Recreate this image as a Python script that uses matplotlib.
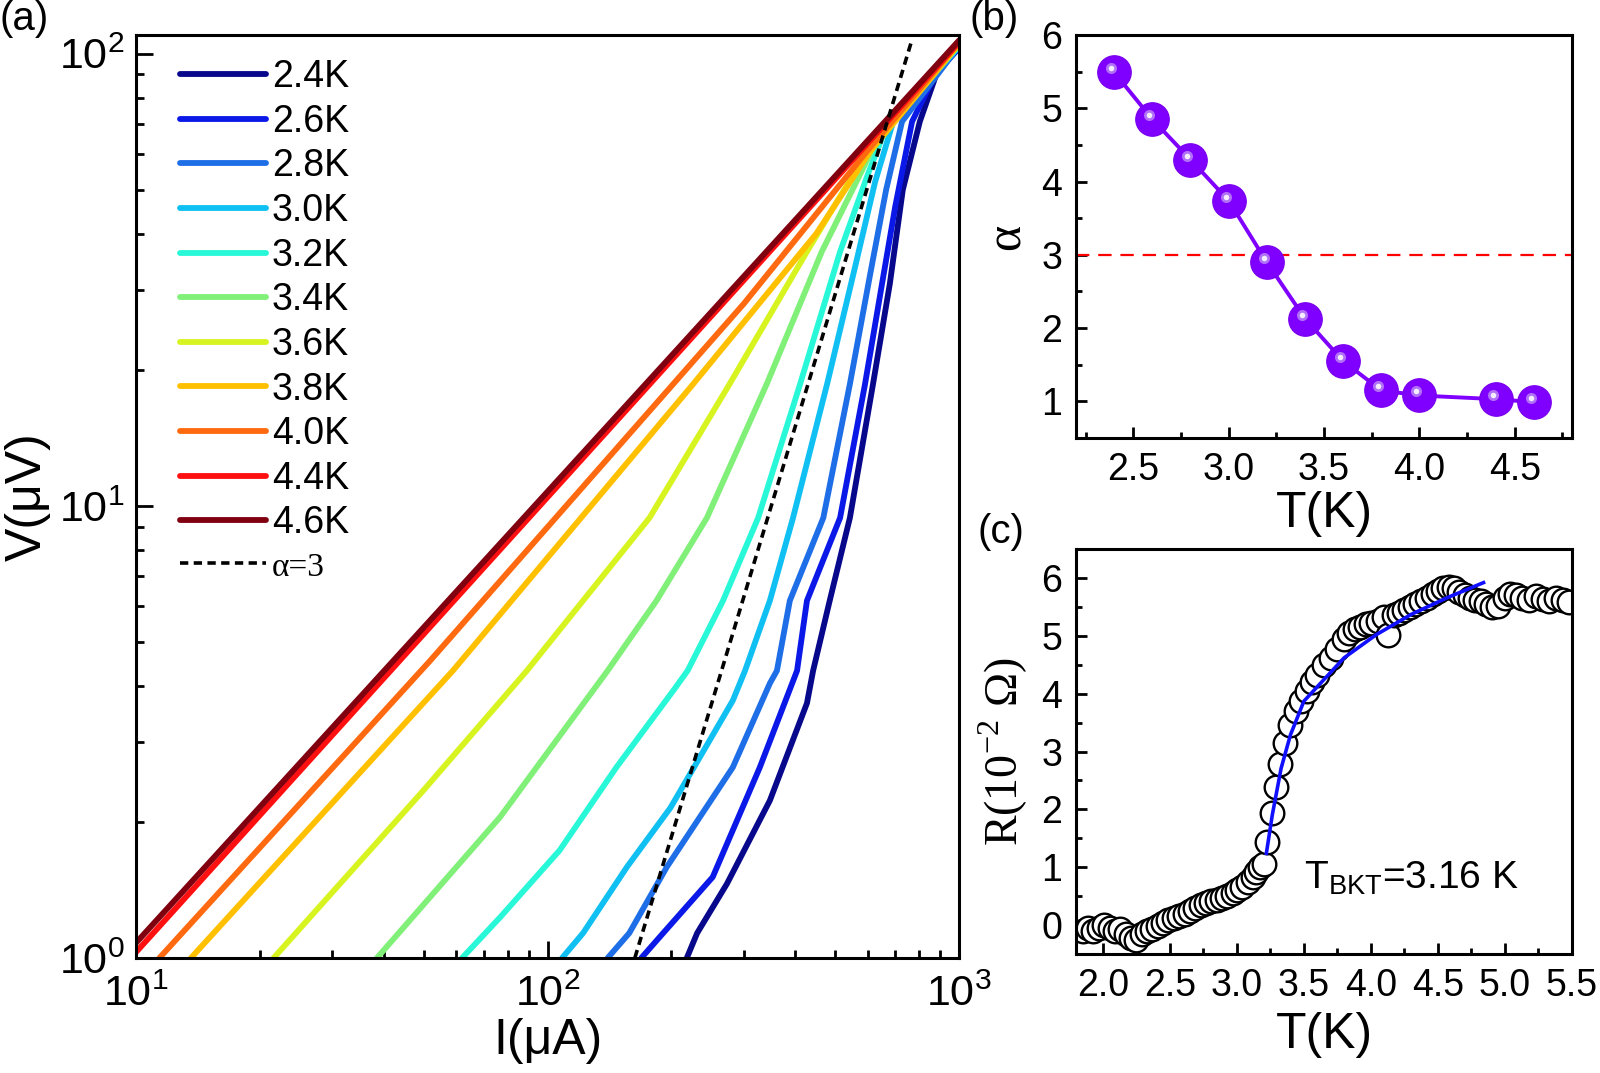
import matplotlib
matplotlib.use('Agg')
import matplotlib.pyplot as plt
import numpy as np
from matplotlib import transforms
from matplotlib.ticker import MultipleLocator, LogLocator, NullFormatter

plt.rcParams['font.family'] = ['Liberation Sans', 'DejaVu Sans']
SERIF = ['Liberation Serif', 'DejaVu Serif']

# ---- (a) I-V curves, log-log ----
temps = ['2.4K', '2.6K', '2.8K', '3.0K', '3.2K', '3.4K', '3.6K', '3.8K', '4.0K', '4.4K', '4.6K']
colors = ['#08088c', '#0a18e8', '#1e6ee8', '#10c0f2', '#28f8d8', '#80f078',
          '#d8f420', '#ffc000', '#ff6a10', '#ff1010', '#800010']

I_24 = [218, 231, 273, 347, 427, 442, 485, 543, 618, 679, 730, 803, 885, 1000]
V_24 = [1.0, 1.135, 1.46, 2.23, 3.66, 4.32, 6.17, 9.41, 18.6, 31.0, 50.0, 70.8, 91.2, 103]
I_26 = [169, 191, 252, 328, 404, 427, 514, 591, 650, 700, 769, 875, 1000]
V_26 = [1.0, 1.135, 1.51, 2.64, 4.32, 6.17, 9.41, 18.6, 31.0, 46.0, 70.8, 90.0, 103]
I_28 = [140, 158, 195, 282, 347, 361, 388, 468, 543, 610, 665, 727, 1000]
V_28 = [1.0, 1.135, 1.59, 2.64, 4.05, 4.32, 6.17, 9.41, 18.6, 33.0, 50.0, 70.8, 104]
I_30 = [108.5, 122, 156, 199, 282, 302, 347, 395, 478, 560, 625, 692, 1000]
V_30 = [1.0, 1.135, 1.59, 2.15, 3.71, 4.32, 6.17, 9.41, 18.6, 34.0, 52.0, 70.8, 104]
I_32 = [62, 76.7, 107, 147, 202, 219, 267, 325, 411, 514, 600, 670, 1000]
V_32 = [1.0, 1.23, 1.73, 2.64, 3.9, 4.32, 6.17, 9.41, 18.6, 36.5, 54.0, 70.0, 104]
I_34 = [38.5, 76.7, 140, 184, 244, 341, 464, 580, 650, 1000]
V_34 = [1.0, 2.05, 4.32, 6.17, 9.41, 18.6, 36.5, 55.0, 68.0, 105]
I_36 = [21.6, 50.0, 89.1, 177, 277, 427, 560, 640, 1000]
V_36 = [1.0, 2.35, 4.32, 9.41, 18.6, 36.5, 55.0, 67.0, 105]
I_38 = [13.6, 58.9, 226, 450, 608, 1000]
V_38 = [1.0, 4.32, 18.6, 40.0, 60.8, 105]
I_40 = [11.4, 51.8, 300, 597, 1000]
V_40 = [1.0, 4.54, 28.0, 60.8, 106]
I_44 = [10.0, 1000]
V_44 = [1.03, 106]
I_46 = [10.0, 1000]
V_46 = [1.08, 107]

I_all = [I_24, I_26, I_28, I_30, I_32, I_34, I_36, I_38, I_40, I_44, I_46]
V_all = [V_24, V_26, V_28, V_30, V_32, V_34, V_36, V_38, V_40, V_44, V_46]

# alpha = 3 guide line end points
I_guide = [163, 770]
V_guide = [1.0, 108]

# ---- (b) alpha vs T ----
T_alpha = [2.4, 2.6, 2.8, 3.0, 3.2, 3.4, 3.6, 3.8, 4.0, 4.4, 4.6]
alpha = [5.49, 4.85, 4.30, 3.74, 2.90, 2.13, 1.55, 1.15, 1.08, 1.03, 0.99]

# ---- (c) R vs T ----
T_R = [1.85, 1.89, 1.93, 1.97, 2.01, 2.05, 2.09, 2.13, 2.17, 2.21, 2.25, 2.29,
       2.33, 2.37, 2.41, 2.45, 2.49, 2.53, 2.57, 2.61, 2.65, 2.69, 2.73, 2.77,
       2.81, 2.85, 2.89, 2.93, 2.97, 3.00, 3.04, 3.08, 3.12, 3.145, 3.175, 3.20,
       3.225, 3.26, 3.29, 3.32, 3.36, 3.40, 3.44, 3.48, 3.52, 3.56, 3.60, 3.65,
       3.70, 3.75, 3.80, 3.84, 3.88, 3.92, 3.96, 4.00, 4.05, 4.10, 4.13, 4.17,
       4.21, 4.25, 4.29, 4.33, 4.37, 4.42, 4.46, 4.50, 4.54, 4.58, 4.62, 4.66,
       4.70, 4.74, 4.78, 4.82, 4.86, 4.90, 4.95, 5.00, 5.04, 5.08, 5.13, 5.18,
       5.23, 5.28, 5.33, 5.38, 5.43, 5.48]
R_T = [-0.10, -0.05, -0.10, -0.05, 0.00, -0.05, -0.10, -0.06, -0.15, -0.22, -0.25, -0.15,
       -0.10, -0.06, -0.02, 0.03, 0.08, 0.12, 0.16, 0.20, 0.24, 0.30, 0.34, 0.38,
       0.42, 0.44, 0.46, 0.50, 0.55, 0.60, 0.66, 0.74, 0.83, 0.92, 1.00, 1.06,
       1.44, 1.93, 2.38, 2.78, 3.15, 3.45, 3.70, 3.87, 4.05, 4.20, 4.32, 4.50,
       4.62, 4.78, 4.95, 5.05, 5.12, 5.16, 5.20, 5.22, 5.26, 5.32, 5.02, 5.36,
       5.40, 5.45, 5.50, 5.55, 5.60, 5.65, 5.72, 5.78, 5.83, 5.84, 5.82, 5.76,
       5.70, 5.66, 5.62, 5.60, 5.55, 5.50, 5.52, 5.65, 5.72, 5.70, 5.66, 5.62,
       5.68, 5.64, 5.60, 5.66, 5.62, 5.58]

T_fit = [3.22, 3.264, 3.33, 3.40, 3.50, 3.64, 3.80, 4.04, 4.30, 4.57, 4.84]
R_fit = [1.24, 1.90, 2.71, 3.29, 3.87, 4.22, 4.62, 5.02, 5.37, 5.66, 5.92]

TICK = 27
LAB = 36

fig = plt.figure(figsize=(16, 10.73), dpi=100)

# ---------- panel (a) ----------
ax1 = fig.add_axes([0.085, 0.1072, 0.5144, 0.8602])
for I, V, c, lab in zip(I_all, V_all, colors, temps):
    ax1.plot(I, V, color=c, lw=4.2, label=lab, solid_capstyle='round', solid_joinstyle='round')
ax1.plot(I_guide, V_guide, color='black', lw=2.6, ls=(0, (2.3, 1.5)), label='α=3', zorder=5)
ax1.set_xscale('log')
ax1.set_yscale('log')
ax1.set_xlim(10, 1000)
ax1.set_ylim(1, 110)
ax1.xaxis.set_minor_locator(LogLocator(base=10, subs=np.arange(2, 10)))
ax1.yaxis.set_minor_locator(LogLocator(base=10, subs=np.arange(2, 10)))
ax1.xaxis.set_minor_formatter(NullFormatter())
ax1.yaxis.set_minor_formatter(NullFormatter())
ax1.tick_params(which='both', direction='in', top=False, right=False, width=2, labelsize=31)
ax1.tick_params(which='major', length=12)
ax1.tick_params(which='minor', length=6)
ax1.tick_params(axis='y', pad=8)
ax1.tick_params(axis='x', pad=12)
ax1.set_xlabel('I(μA)', fontsize=LAB, labelpad=2)
ax1.set_ylabel('V(μV)', fontsize=LAB, labelpad=6)
leg = ax1.legend(loc='upper left', bbox_to_anchor=(0.035, 0.99), borderaxespad=0,
                 frameon=False, fontsize=27, handlelength=2.3, handletextpad=0.15,
                 labelspacing=0.23)
leg.get_texts()[-1].set_family(SERIF)
leg.get_texts()[-1].set_fontsize(24)

# ---------- panel (b) ----------
ax2 = fig.add_axes([0.6725, 0.5918, 0.31, 0.3756])
ax2.axhline(3, color='#ff0000', lw=1.6, ls=(0, (6, 4)))
ax2.plot(T_alpha, alpha, color='#8000ff', lw=2.8, marker='o', ms=24, mec='#7a00f0', mfc='#8000ff')
hl = transforms.offset_copy(ax2.transData, fig=fig, x=-3, y=4, units='dots')
ax2.plot(T_alpha, alpha, ls='none', marker='o', ms=8, mfc='#b070f8', mec='none', transform=hl)
ax2.plot(T_alpha, alpha, ls='none', marker='o', ms=4, mfc='#f4ecff', mec='none', transform=hl)
ax2.set_xlim(2.2, 4.8)
ax2.set_ylim(0.5, 6)
ax2.xaxis.set_major_locator(MultipleLocator(0.5))
ax2.xaxis.set_minor_locator(MultipleLocator(0.25))
ax2.yaxis.set_major_locator(MultipleLocator(1))
ax2.yaxis.set_minor_locator(MultipleLocator(0.5))
ax2.tick_params(which='both', direction='in', top=False, right=False, width=2, labelsize=TICK)
ax2.tick_params(which='major', length=8, pad=10)
ax2.tick_params(which='minor', length=4)
ax2.set_xlabel('T(K)', fontsize=LAB, labelpad=2)
ax2.set_ylabel('α', fontsize=36, labelpad=8, family=SERIF)

# ---------- panel (c) ----------
ax3 = fig.add_axes([0.6725, 0.1109, 0.31, 0.3774])
ax3.plot(T_R, R_T, ls='none', marker='o', ms=17, mfc='white', mec='black', mew=1.7)
ax3.plot(T_fit, R_fit, color='#1010ff', lw=2.6)
ax3.set_xlim(1.8, 5.5)
ax3.set_ylim(-0.5, 6.5)
ax3.xaxis.set_major_locator(MultipleLocator(0.5))
ax3.xaxis.set_minor_locator(MultipleLocator(0.25))
ax3.yaxis.set_major_locator(MultipleLocator(1))
ax3.yaxis.set_minor_locator(MultipleLocator(0.5))
ax3.tick_params(which='both', direction='in', top=False, right=False, width=2, labelsize=TICK)
ax3.tick_params(which='major', length=8, pad=10)
ax3.tick_params(which='minor', length=4)
ax3.set_xlabel('T(K)', fontsize=LAB, labelpad=6)
ax3.set_ylabel(r'R(10$^{\mathdefault{-2}}$ Ω)', fontsize=33, labelpad=8, family=SERIF)
ax3.text(3.5, 0.8, r'T$_{\mathdefault{BKT}}$=3.16 K', fontsize=28, va='center', ha='left')

for ax in (ax1, ax2, ax3):
    for s in ax.spines.values():
        s.set_linewidth(2.2)

fig.text(0.0, 1.0, '(a)', fontsize=29, ha='left', va='top')
fig.text(0.606, 1.0, '(b)', fontsize=29, ha='left', va='top')
fig.text(0.611, 0.522, '(c)', fontsize=29, ha='left', va='top')

fig.savefig('out.png', dpi=100, facecolor='white')
